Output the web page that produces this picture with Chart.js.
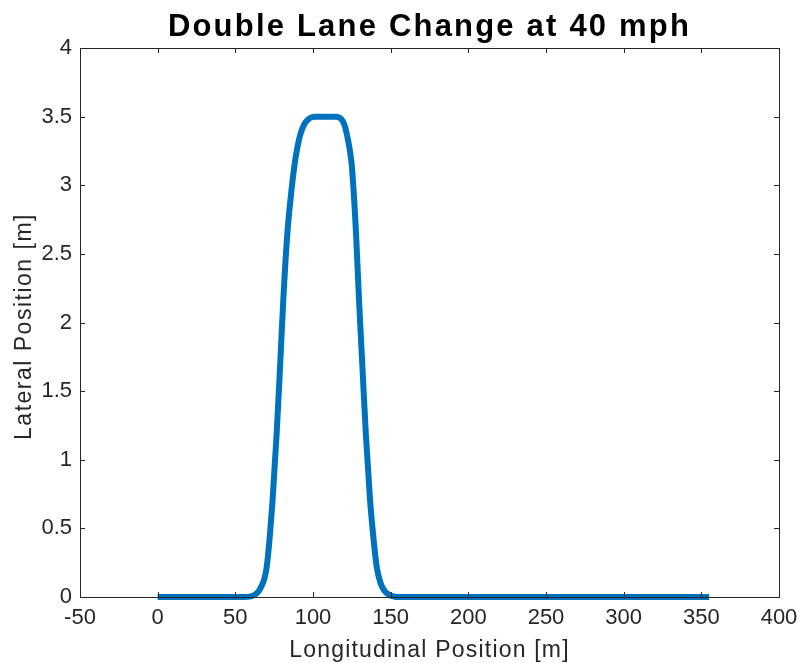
<!DOCTYPE html>
<html>
<head>
<meta charset="utf-8">
<script src="https://cdn.jsdelivr.net/npm/chart.js@4"></script>
<style>
  html, body { margin: 0; padding: 0; background: #fff; }
  #wrap { width: 799px; height: 663px; }
</style>
</head>
<body>
<div id="wrap"><canvas id="chart" width="799" height="663"></canvas></div>
<script>
const TITLE = "Double Lane Change at 40 mph";
const X_LABEL = "Longitudinal Position [m]";
const Y_LABEL = "Lateral Position [m]";

const xPos = [0, 55, 60, 63, 66, 70.2, 74, 76.6, 78.8, 80.9, 83.5, 86, 88, 90, 92.1, 94.2, 96, 98.1, 101, 105, 110, 115,
  117.4, 119, 120.5, 122, 123.5, 125, 127.7, 129.6, 131.8, 134, 136.7, 139, 141, 143.5, 146.4, 149, 152, 155, 200, 250, 300, 355];
const yPos = [0, 0, 0.005, 0.02, 0.06, 0.22, 0.71, 1.19, 1.68, 2.17, 2.65, 2.95, 3.14, 3.28, 3.38, 3.44, 3.47, 3.49, 3.5, 3.5, 3.5, 3.5,
  3.49, 3.47, 3.43, 3.36, 3.27, 3.14, 2.65, 2.17, 1.68, 1.19, 0.71, 0.42, 0.22, 0.1, 0.04, 0.015, 0.004, 0, 0, 0, 0, 0];

const X_MIN = -50, X_MAX = 400, X_STEP = 50;
const Y_MIN = 0, Y_MAX = 4, Y_STEP = 0.5;

const AXIS_COLOR = "#262626";
const FONT = "'Liberation Sans', Arial, sans-serif";

// matlab style box with inward ticks, plus the title and axis labels
// (drawn here so they can get the wider letter spacing of the original)
const boxPlugin = {
  id: "box",
  afterDraw(chart) {
    const { ctx, chartArea: a, scales } = chart;
    ctx.save();
    ctx.strokeStyle = AXIS_COLOR;
    ctx.lineWidth = 1;
    ctx.strokeRect(a.left + 0.5, a.top + 0.5, a.right - a.left, a.bottom - a.top);
    const t = 5;
    ctx.beginPath();
    scales.x.ticks.forEach((tk) => {
      const px = Math.round(scales.x.getPixelForValue(tk.value)) + 0.5;
      ctx.moveTo(px, a.bottom); ctx.lineTo(px, a.bottom - t);
      ctx.moveTo(px, a.top); ctx.lineTo(px, a.top + t);
    });
    scales.y.ticks.forEach((tk) => {
      const py = Math.round(scales.y.getPixelForValue(tk.value)) + 0.5;
      ctx.moveTo(a.left, py); ctx.lineTo(a.left + t, py);
      ctx.moveTo(a.right, py); ctx.lineTo(a.right - t, py);
    });
    ctx.stroke();

    const cx = (a.left + a.right) / 2;
    const cy = (a.top + a.bottom) / 2;
    ctx.textAlign = "center";
    ctx.textBaseline = "alphabetic";

    ctx.fillStyle = "#000";
    ctx.font = "bold 31px " + FONT;
    ctx.letterSpacing = "2.2px";
    ctx.fillText(TITLE, cx, 35.5);

    ctx.fillStyle = AXIS_COLOR;
    ctx.font = "23px " + FONT;
    ctx.letterSpacing = "1.2px";
    ctx.fillText(X_LABEL, cx, 656.5);

    ctx.translate(31, cy + 4);
    ctx.rotate(-Math.PI / 2);
    ctx.letterSpacing = "1.5px";
    ctx.fillText(Y_LABEL, 0, 0);
    ctx.restore();
  }
};

const points = xPos.map((x, i) => ({ x, y: yPos[i] }));

new Chart(document.getElementById("chart").getContext("2d"), {
  type: "line",
  data: {
    datasets: [{
      data: points,
      borderColor: "#0072BD",
      borderWidth: 6,
      pointRadius: 0,
      fill: false,
      cubicInterpolationMode: "monotone",
      borderCapStyle: "butt",
      clip: false
    }]
  },
  options: {
    responsive: false,
    animation: false,
    devicePixelRatio: 1,
    layout: { padding: { left: 0, right: 20, top: 48, bottom: 0 } },
    plugins: {
      legend: { display: false },
      tooltip: { enabled: false },
      title: { display: false }
    },
    scales: {
      x: {
        type: "linear",
        min: X_MIN,
        max: X_MAX,
        afterFit: (s) => { s.height = 66; s.paddingLeft = 0; s.paddingRight = 0; },
        ticks: {
          stepSize: X_STEP,
          color: AXIS_COLOR,
          font: { family: FONT, size: 22 },
          padding: 8,
          maxRotation: 0
        },
        grid: { display: false, drawTicks: false },
        border: { display: false }
      },
      y: {
        type: "linear",
        min: Y_MIN,
        max: Y_MAX,
        afterFit: (s) => { s.width = 80; s.paddingTop = 0; s.paddingBottom = 0; },
        ticks: {
          stepSize: Y_STEP,
          color: AXIS_COLOR,
          font: { family: FONT, size: 22 },
          padding: 8,
          callback: (v) => String(Number(v))
        },
        grid: { display: false, drawTicks: false },
        border: { display: false }
      }
    }
  },
  plugins: [boxPlugin]
});
</script>
</body>
</html>
